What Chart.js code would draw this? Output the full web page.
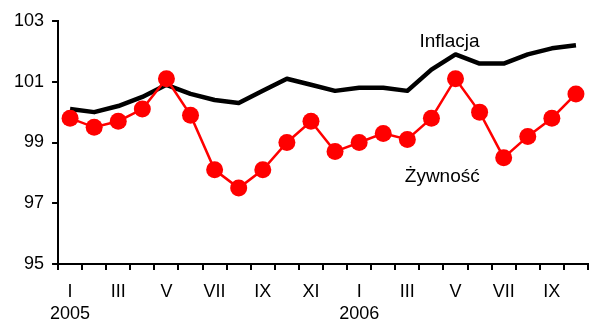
<!DOCTYPE html>
<html>
<head>
<meta charset="utf-8">
<script src="https://cdn.jsdelivr.net/npm/chart.js@4/dist/chart.umd.min.js"></script>
<style>
  html, body { margin: 0; padding: 0; background: #fff; }
  #wrap { width: 590px; height: 324px; }
</style>
</head>
<body>
<div id="wrap"><canvas id="chart"></canvas></div>
<script>
// monthly indices, Jan 2005 - Oct 2006
const months = ['I','II','III','IV','V','VI','VII','VIII','IX','X','XI','XII',
                'I','II','III','IV','V','VI','VII','VIII','IX','X'];
const years = ['2005', '2006'];
const inflacja = [100.1, 100.0, 100.2, 100.5, 100.9, 100.6, 100.4, 100.3, 100.7, 101.1, 100.9,
                  100.7, 100.8, 100.8, 100.7, 101.4, 101.9, 101.6, 101.6, 101.9, 102.1, 102.2];
const zywnosc = [99.8, 99.5, 99.7, 100.1, 101.1, 99.9, 98.1, 97.5, 98.1, 99.0, 99.7,
                 98.7, 99.0, 99.3, 99.1, 99.8, 101.1, 100.0, 98.5, 99.2, 99.8, 100.6];
const seriesNames = ['Inflacja', 'Żywność'];

const FONT = "'Liberation Sans', Arial, sans-serif";

// series names written next to the lines
const seriesNotes = {
  id: 'seriesNotes',
  afterDatasetsDraw(chart) {
    const { ctx, scales: { x, y } } = chart;
    const spots = [
      { text: seriesNames[0], at: 15.75, v: 102.15 },
      { text: seriesNames[1], at: 15.45, v: 97.71 }
    ];
    ctx.save();
    ctx.font = '19px ' + FONT;
    ctx.fillStyle = '#000';
    ctx.textAlign = 'center';
    ctx.textBaseline = 'alphabetic';
    spots.forEach(s => ctx.fillText(s.text, x.getPixelForValue(s.at), y.getPixelForValue(s.v)));
    ctx.restore();
  }
};

// every other month under the axis, with the year below each January
const monthLabels = {
  id: 'monthLabels',
  afterDraw(chart) {
    const { ctx, scales: { x } } = chart;
    ctx.save();
    ctx.font = '18px ' + FONT;
    ctx.fillStyle = '#000';
    ctx.textAlign = 'center';
    ctx.textBaseline = 'middle';
    months.forEach((m, i) => {
      if (i % 2 !== 0) return;
      const px = x.getPixelForValue(i);
      ctx.fillText(m, px, x.top + 28);
      if (m === 'I') ctx.fillText(years[Math.floor(i / 12)], px, x.top + 50.5);
    });
    ctx.restore();
  }
};

new Chart(document.getElementById('chart'), {
  type: 'line',
  data: {
    labels: months,
    datasets: [
      {
        label: seriesNames[1],
        data: zywnosc,
        borderColor: '#ff0000',
        backgroundColor: '#ff0000',
        borderWidth: 2.5,
        pointRadius: 8.5,
        pointHoverRadius: 8.5,
        pointBorderWidth: 0,
        tension: 0
      },
      {
        label: seriesNames[0],
        data: inflacja,
        borderColor: '#000',
        borderWidth: 4.5,
        borderJoinStyle: 'round',
        pointRadius: 0,
        tension: 0
      }
    ]
  },
  options: {
    responsive: true,
    maintainAspectRatio: false,
    animation: false,
    layout: { autoPadding: false, padding: { top: 21, left: 6, right: 2, bottom: 0 } },
    plugins: {
      legend: { display: false },
      tooltip: { enabled: false }
    },
    scales: {
      x: {
        offset: true,
        border: { color: '#000', width: 2 },
        grid: { offset: true, drawOnChartArea: false, tickLength: 6, color: '#000', lineWidth: 2 },
        ticks: { display: false },
        afterFit: scale => { scale.height = 60; }
      },
      y: {
        min: 95,
        max: 103,
        border: { color: '#000', width: 2 },
        grid: { drawOnChartArea: false, tickLength: 6, color: '#000', lineWidth: 2 },
        ticks: {
          stepSize: 2,
          padding: 8,
          color: '#000',
          font: { family: FONT, size: 18, lineHeight: 1.22 }
        }
      }
    }
  },
  plugins: [seriesNotes, monthLabels]
});
</script>
</body>
</html>
